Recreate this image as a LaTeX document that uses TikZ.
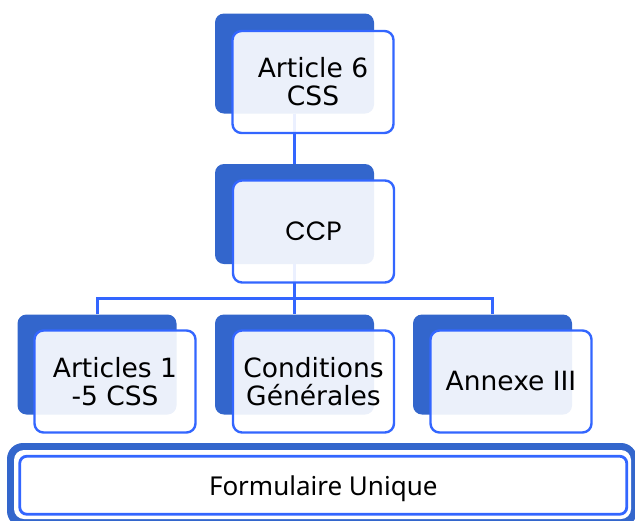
\documentclass[tikz,border=0pt]{standalone}
\usepackage{fontspec}
\setmainfont{DejaVu Sans}
\newfontfamily\ccpfont{Poppins}
\newfontfamily\formfont{Noto Sans}
\definecolor{darkfill}{HTML}{3366CC}
\definecolor{lineblue}{HTML}{3366FF}
\definecolor{frameblue}{HTML}{3366CC}
\begin{document}
\begin{tikzpicture}[x=1pt,y=-1pt,
  back/.style={fill=darkfill, rounded corners=9pt, inner sep=0pt, minimum width=159pt, minimum height=100pt},
  front/.style={fill=white, fill opacity=0.9, text opacity=1, draw=lineblue, line width=2.4pt, rounded corners=9pt, inner sep=0pt, minimum width=161pt, minimum height=102pt, align=center, font=\fontsize{26.5}{28}\selectfont},
  link/.style={draw=lineblue, line width=3pt}]
\useasboundingbox (0,0) rectangle (635,520);
% back plates
\node[back] (b1) at (294.5,63.5) {};
\node[back] (b2) at (294.5,214) {};
\node[back] (b3) at (97,364.5) {};
\node[back] (b4) at (294.5,364.5) {};
\node[back] (b5) at (492.5,364.5) {};
% connectors
\coordinate (bus) at (294.5,298.5);
\draw[link] (b1.south) -- (b2.north);
\draw[link] (b2.south) -- (bus);
\draw[link] (b3.north) |- (bus) -| (b5.north);
\draw[link] (bus) -- (b4.north);
% front boxes
\node[front] (f1) at (313,82) {Article 6\\CSS};
\node[front] (f2) at (313.5,231.5) {\ccpfont\fontsize{26.5}{28}\selectfont CCP};
\node[front] (f3) at (115,381.5) {Articles 1\\-5 CSS};
\node[front] (f4) at (313.5,381.5) {Conditions\\Générales};
\node[front] (f5) at (511,381.5) {Annexe III};
% bottom frame
\node[fill=frameblue, rounded corners=16pt, inner sep=0pt, minimum width=630pt, minimum height=84pt] (fo) at (322,485) {};
\node[fill=white, rounded corners=10pt, inner sep=0pt, minimum width=617pt, minimum height=69pt] (fw) at (322.5,484.5) {};
\node[draw=lineblue, line width=2.8pt, rounded corners=7pt, inner sep=0pt, minimum width=607pt, minimum height=58pt, font=\formfont\fontsize{26}{28}\selectfont] (fi) at (323.25,485.25) {\raisebox{-3.5pt}[\height][\depth]{Formulaire Unique}};
\end{tikzpicture}
\end{document}
